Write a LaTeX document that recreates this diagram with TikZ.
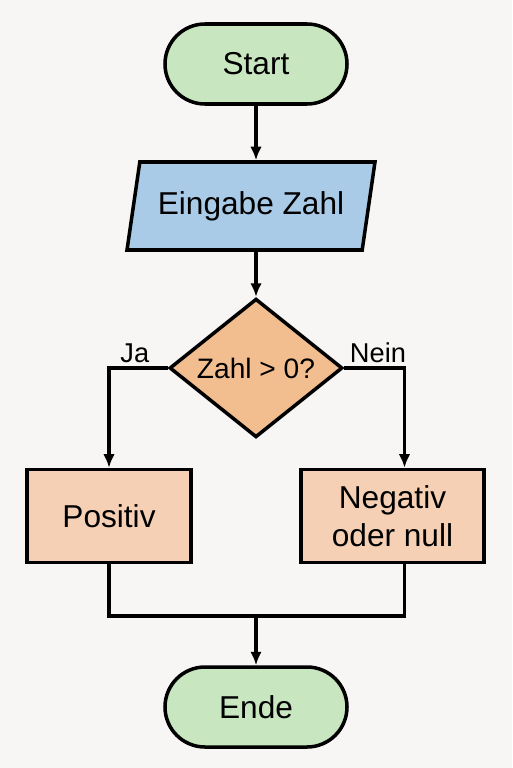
\documentclass[tikz,border=0pt]{standalone}
\usepackage{fontspec}
\setsansfont{Liberation Sans}
\usetikzlibrary{shapes.geometric, arrows.meta}
\definecolor{bgpaper}{HTML}{F7F6F4}
\definecolor{termgreen}{HTML}{C8E6C0}
\definecolor{ioblue}{HTML}{A9CBE8}
\definecolor{askorange}{HTML}{F2BE90}
\definecolor{doapricot}{HTML}{F5D0B5}
\begin{document}
\begin{tikzpicture}[font=\sffamily\fontsize{18pt}{21.5pt}\selectfont, >={Latex[length=2.7mm, width=2.3mm]},
          flow/.style={draw, line width=2pt, align=center},
          term/.style={flow, rounded corners=0.8cm, fill=termgreen, minimum width=3.64cm, minimum height=1.6cm},
          inout/.style={flow, trapezium, trapezium left angle=70, trapezium right angle=110, trapezium stretches=true, fill=ioblue, minimum width=4.96cm, minimum height=1.76cm, inner sep=0pt},
          ask/.style={flow, diamond, fill=askorange, minimum width=3.46cm, minimum height=2.62cm, inner sep=0pt, font=\sffamily\fontsize{16pt}{19pt}\selectfont},
          act/.style={flow, fill=doapricot, minimum height=1.86cm},
          wire/.style={line width=2pt},
          tag/.style={font=\sffamily\fontsize{15.5pt}{18pt}\selectfont, inner sep=2pt}]
        \fill[bgpaper] (0,0) rectangle (10.24,-15.36);
        \useasboundingbox (0,0) rectangle (10.24,-15.36);
        \node[term] (start) at (5.12,-1.28) {Start};
        \node[inout] (input) at (5.02,-4.12) {Eingabe Zahl};
        \node[ask] (test) at (5.12,-7.36) {Zahl > 0?};
        \node[act, minimum width=3.28cm] (pos) at (2.18,-10.32) {Positiv};
        \node[act, minimum width=3.66cm] (neg) at (7.85,-10.32) {Negativ\\oder null};
        \node[term] (ende) at (5.12,-14.14) {Ende};
        \coordinate (join) at (5.12,-12.32);
        \draw[->, wire] (start) -- (start |- input.north);
        \draw[->, wire] (test.north |- input.south) -- (test);
        \draw[->, wire] (test.west) -| node[tag, above, pos=0.28] {Ja} (pos.north);
        \draw[->, wire] (test.east) -| node[tag, above, pos=0.28] {Nein} ([xshift=0.24cm]neg.north);
        \draw[wire] (pos.south) |- (join) -| ([xshift=0.24cm]neg.south);
        \draw[->, wire] (join) -- (ende);
      \end{tikzpicture}
\end{document}
